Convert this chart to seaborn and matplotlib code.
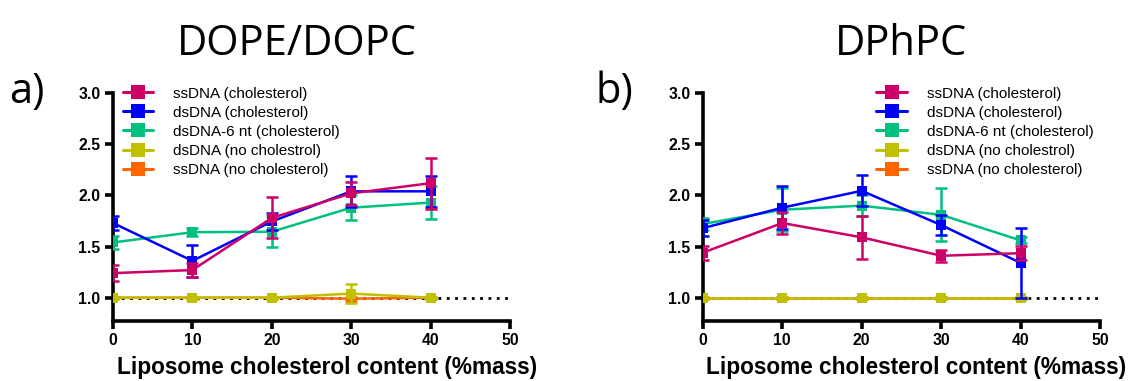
import numpy as np
import pandas as pd
import matplotlib
matplotlib.use('Agg')
import matplotlib.pyplot as plt
from matplotlib.lines import Line2D
import seaborn as sns

# Data (mean and SD)
cholesterol = [0, 10, 20, 30, 40]
series = ["ssDNA (cholesterol)", "dsDNA (cholesterol)", "dsDNA-6 nt (cholesterol)",
          "dsDNA (no cholestrol)", "ssDNA (no cholesterol)"]
colors = ["#CC0066", "#0000FF", "#00C080", "#C0C000", "#FF6600"]

# a) DOPE/DOPC
dope_ss_chol = [1.24, 1.27, 1.78, 2.02, 2.12]
dope_ss_chol_sd = [0.08, 0.07, 0.20, 0.11, 0.25]
dope_ds_chol = [1.73, 1.36, 1.745, 2.04, 2.04]
dope_ds_chol_sd = [0.07, 0.16, 0.08, 0.15, 0.15]
dope_ds6_chol = [1.54, 1.64, 1.645, 1.88, 1.93]
dope_ds6_chol_sd = [0.06, 0.04, 0.15, 0.12, 0.16]
dope_ds_nochol = [1.0, 1.0, 1.0, 1.04, 1.0]
dope_ds_nochol_sd = [0.01, 0.01, 0.01, 0.09, 0.01]
dope_ss_nochol = [1.0, 1.0, 1.0, 0.99, 1.0]
dope_ss_nochol_sd = [0.01, 0.01, 0.01, 0.02, 0.01]

# b) DPhPC
dphpc_ss_chol = [1.44, 1.73, 1.59, 1.41, 1.435]
dphpc_ss_chol_sd = [0.07, 0.11, 0.21, 0.06, 0.07]
dphpc_ds_chol = [1.68, 1.88, 2.045, 1.71, 1.34]
dphpc_ds_chol_sd = [0.08, 0.21, 0.15, 0.10, 0.34]
dphpc_ds6_chol = [1.72, 1.86, 1.90, 1.81, 1.56]
dphpc_ds6_chol_sd = [0.06, 0.21, 0.10, 0.26, 0.03]
dphpc_ds_nochol = [1.0, 1.0, 1.0, 1.0, 1.0]
dphpc_ds_nochol_sd = [0.01, 0.01, 0.01, 0.01, 0.01]
dphpc_ss_nochol = [1.0, 1.0, 1.0, 1.0, 1.0]
dphpc_ss_nochol_sd = [0.01, 0.01, 0.01, 0.01, 0.01]

panels = [
    ([dope_ss_chol, dope_ds_chol, dope_ds6_chol, dope_ds_nochol, dope_ss_nochol],
     [dope_ss_chol_sd, dope_ds_chol_sd, dope_ds6_chol_sd, dope_ds_nochol_sd, dope_ss_nochol_sd]),
    ([dphpc_ss_chol, dphpc_ds_chol, dphpc_ds6_chol, dphpc_ds_nochol, dphpc_ss_nochol],
     [dphpc_ss_chol_sd, dphpc_ds_chol_sd, dphpc_ds6_chol_sd, dphpc_ds_nochol_sd, dphpc_ss_nochol_sd]),
]

sns.set_style("ticks", {"axes.edgecolor": "black", "text.color": "black",
                        "xtick.color": "black", "ytick.color": "black",
                        "axes.labelcolor": "black"})
plt.rcParams['font.family'] = ['Liberation Sans', 'DejaVu Sans']

fig = plt.figure(figsize=(11.3, 3.81), dpi=100)
ax_a = fig.add_axes([0.1, 0.1575, 0.3513, 0.598])
ax_b = fig.add_axes([0.622, 0.1575, 0.3515, 0.598])

for ax, (means, sds) in zip([ax_a, ax_b], panels):
    # baseline dotted line at 1.0
    ax.plot([0, 50], [1, 1], ls=(0, (1, 2.0)), color="black", lw=2.0, zorder=1)
    # draw in reverse so magenta ends up on top
    for i in reversed(range(len(series))):
        df = pd.DataFrame({"x": cholesterol, "y": means[i]})
        z = 10 - i
        ax.errorbar(cholesterol, means[i], yerr=sds[i], fmt="none", ecolor=colors[i],
                    elinewidth=1.8, capsize=4, capthick=1.8, zorder=z)
        sns.lineplot(data=df, x="x", y="y", ax=ax, color=colors[i], lw=1.8,
                     marker="s", markersize=6.5, markeredgewidth=0, zorder=z,
                     legend=False)

    ax.set_xlim(0, 50)
    ax.set_ylim(0.772, 3.0)
    ax.set_xticks([0, 10, 20, 30, 40, 50])
    ax.set_yticks([1.0, 1.5, 2.0, 2.5, 3.0])
    ax.set_yticklabels(["1.0", "1.5", "2.0", "2.5", "3.0"])
    ax.set_xlabel("Liposome cholesterol content (%mass)", fontsize=16.3,
                  fontweight="bold")
    ax.xaxis.set_label_coords(0.538, -0.152)
    ax.set_ylabel("")
    sns.despine(ax=ax)
    for s in ["left", "bottom"]:
        ax.spines[s].set_linewidth(2.6)
    ax.tick_params(width=2.6, length=6, labelsize=11.3, pad=3)
    for lab in ax.get_xticklabels() + ax.get_yticklabels():
        lab.set_fontweight("bold")

handles = [Line2D([], [], color=c, lw=2.2, marker="s", markersize=10, markeredgewidth=0)
           for c in colors]
leg_kw = dict(loc="upper left", frameon=False, fontsize=11, handlelength=2.0,
              handletextpad=1.3, labelspacing=0.33, borderaxespad=0.3)
ax_a.legend(handles, series, bbox_to_anchor=(-0.003, 1.075), **leg_kw)
ax_b.legend(handles, series, bbox_to_anchor=(0.41, 1.075), **leg_kw)

title_font = ['Open Sans', 'DejaVu Sans']
fig.text(0.263, 0.885, "DOPE/DOPC", ha="center", va="center", fontsize=30, family=title_font)
fig.text(0.797, 0.885, "DPhPC", ha="center", va="center", fontsize=30, family=title_font)
fig.text(0.008, 0.758, "a)", ha="left", va="center", fontsize=30, family=title_font)
fig.text(0.527, 0.758, "b)", ha="left", va="center", fontsize=30, family=title_font)

fig.savefig("out.png", dpi=100)
